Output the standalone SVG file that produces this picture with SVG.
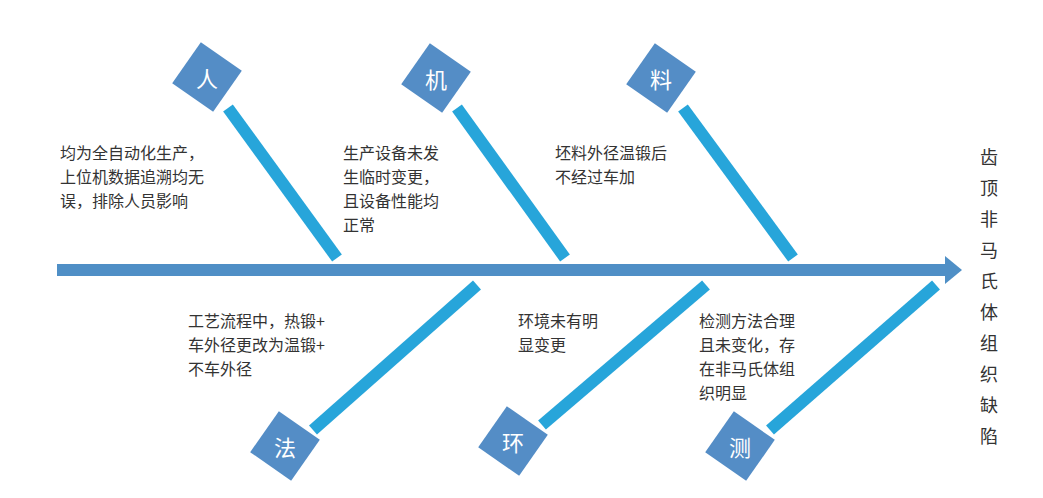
<svg xmlns="http://www.w3.org/2000/svg" width="1043" height="498" viewBox="0 0 1043 498">
<style>
.d{fill:#548dc6}
.dt{fill:#fff;font-family:"Noto Sans CJK SC",sans-serif;font-size:22px;text-anchor:middle;dominant-baseline:central}
.b{stroke:#27a5da;stroke-width:12;fill:none}
.t{fill:#333;font-family:"Noto Sans CJK SC",sans-serif;font-size:16px}
</style>
<rect width="1043" height="498" fill="#fff"/>
<g id="connectors">
<rect x="57" y="264" width="890" height="12" fill="#4f8fc6"/>
<polygon points="945,256 962,270 945,284" fill="#4f8fc6"/>
<line class="b" x1="228" y1="108" x2="337" y2="258"/>
<line class="b" x1="457" y1="108" x2="565" y2="258"/>
<line class="b" x1="683" y1="108" x2="793" y2="258"/>
<line class="b" x1="313" y1="430" x2="477" y2="285"/>
<line class="b" x1="542" y1="425" x2="706" y2="285"/>
<line class="b" x1="770" y1="430" x2="936" y2="285"/>
</g>
<g id="n-ren"><rect class="d" x="-25" y="-25" width="50" height="50" transform="translate(207,77) rotate(35)"/><text class="dt" x="207" y="77">人</text></g>
<g id="n-ji"><rect class="d" x="-25" y="-25" width="50" height="50" transform="translate(436,78) rotate(35)"/><text class="dt" x="436" y="78">机</text></g>
<g id="n-liao"><rect class="d" x="-25" y="-25" width="50" height="50" transform="translate(661,78) rotate(35)"/><text class="dt" x="661" y="78">料</text></g>
<g id="n-fa"><rect class="d" x="-25" y="-25" width="50" height="50" transform="translate(285,446) rotate(35)"/><text class="dt" x="285" y="446">法</text></g>
<g id="n-huan"><rect class="d" x="-25" y="-25" width="50" height="50" transform="translate(513,441) rotate(35)"/><text class="dt" x="513" y="441">环</text></g>
<g id="n-ce"><rect class="d" x="-25" y="-25" width="50" height="50" transform="translate(740,446) rotate(35)"/><text class="dt" x="740" y="446">测</text></g>
<g id="texts">
<text class="t" x="60" y="159">均为全自动化生产，</text>
<text class="t" x="60" y="183">上位机数据追溯均无</text>
<text class="t" x="60" y="207">误，排除人员影响</text>
<text class="t" x="343" y="159">生产设备未发</text>
<text class="t" x="343" y="183">生临时变更，</text>
<text class="t" x="343" y="207">且设备性能均</text>
<text class="t" x="343" y="231">正常</text>
<text class="t" x="555" y="159">坯料外径温锻后</text>
<text class="t" x="555" y="183">不经过车加</text>
<text class="t" x="188" y="327">工艺流程中，热锻+</text>
<text class="t" x="188" y="351">车外径更改为温锻+</text>
<text class="t" x="188" y="375">不车外径</text>
<text class="t" x="518" y="327">环境未有明</text>
<text class="t" x="518" y="351">显变更</text>
<text class="t" x="699" y="327">检测方法合理</text>
<text class="t" x="699" y="351">且未变化，存</text>
<text class="t" x="699" y="375">在非马氏体组</text>
<text class="t" x="699" y="399">织明显</text>
</g>
<g id="title" class="t" font-size="18">
<text class="t" x="980" y="164" style="font-size:18px">齿</text>
<text class="t" x="980" y="195" style="font-size:18px">顶</text>
<text class="t" x="980" y="226" style="font-size:18px">非</text>
<text class="t" x="980" y="257" style="font-size:18px">马</text>
<text class="t" x="980" y="288" style="font-size:18px">氏</text>
<text class="t" x="980" y="319" style="font-size:18px">体</text>
<text class="t" x="980" y="350" style="font-size:18px">组</text>
<text class="t" x="980" y="381" style="font-size:18px">织</text>
<text class="t" x="980" y="412" style="font-size:18px">缺</text>
<text class="t" x="980" y="443" style="font-size:18px">陷</text>
</g>
</svg>
